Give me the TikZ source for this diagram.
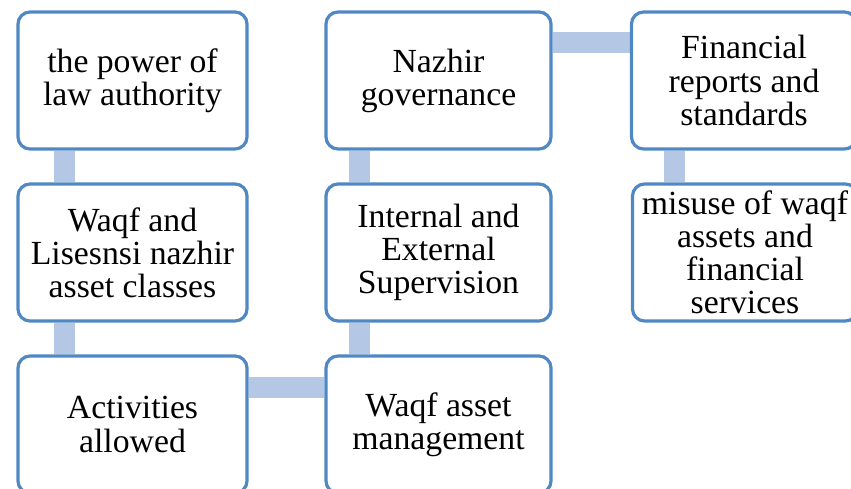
\documentclass[tikz,border=0pt]{standalone}
\usepackage{fontspec}
\setmainfont{Liberation Serif}
\usetikzlibrary{calc,backgrounds}
\definecolor{boxline}{RGB}{80,136,196}
\definecolor{connfill}{RGB}{180,200,230}
\tikzset{
  box/.style={draw=boxline, line width=2.4pt, fill=white, rounded corners=9pt,
    minimum height=137*0.75pt, align=center, inner sep=0pt,
    font=\fontsize{25.3}{24.8}\selectfont},
  boxa/.style={box, minimum width=229*0.75pt},
  boxb/.style={box, minimum width=225*0.75pt},
  conn/.style={draw=connfill, line width=21*0.75pt}
}
\begin{document}
\begin{tikzpicture}[x=0.75pt,y=-0.75pt]
\useasboundingbox (0,0) rectangle (851,489);
\clip (0,0) rectangle (851,489);
% top row
\node[boxa] (power) at (132.5,80.5) {the power of\\law authority};
\node[boxb] (nazhir) at (438.5,80.5) {Nazhir\\governance};
\node[boxb] (fin) at (744,80.5) {Financial\\reports and\\standards};
% middle row
\node[boxa] (waqf) at (132.5,252.5) {Waqf and\\Lisesnsi nazhir\\asset classes};
\node[boxb] (internal) at (438.5,252.5) {Internal and\\External\\Supervision};
\node[boxb] (misuse) at (745,252.5) {misuse of waqf\\assets and\\financial\\services};
% bottom row
\node[boxa] (act) at (132.5,424.5) {Activities\\allowed};
\node[boxb] (mgmt) at (438.5,424.5) {Waqf asset\\management};
\begin{scope}[on background layer]
\draw[conn] ($(power.south west)+(48.5,0)$) -- ($(waqf.north west)+(48.5,0)$);
\draw[conn] ($(waqf.south west)+(48.5,0)$) -- ($(act.north west)+(48.5,0)$);
\draw[conn] ($(nazhir.south west)+(35,0)$) -- ($(internal.north west)+(35,0)$);
\draw[conn] ($(internal.south west)+(35,0)$) -- ($(mgmt.north west)+(35,0)$);
\draw[conn] ($(fin.south west)+(45,0)$) -- ($(misuse.north west)+(44,0)$);
\draw[conn] ($(nazhir.north east)+(0,32.5)$) -- ($(fin.north west)+(0,32.5)$);
\draw[conn] ($(act.north east)+(0,33.5)$) -- ($(mgmt.north west)+(0,33.5)$);
\end{scope}
\end{tikzpicture}
\end{document}
